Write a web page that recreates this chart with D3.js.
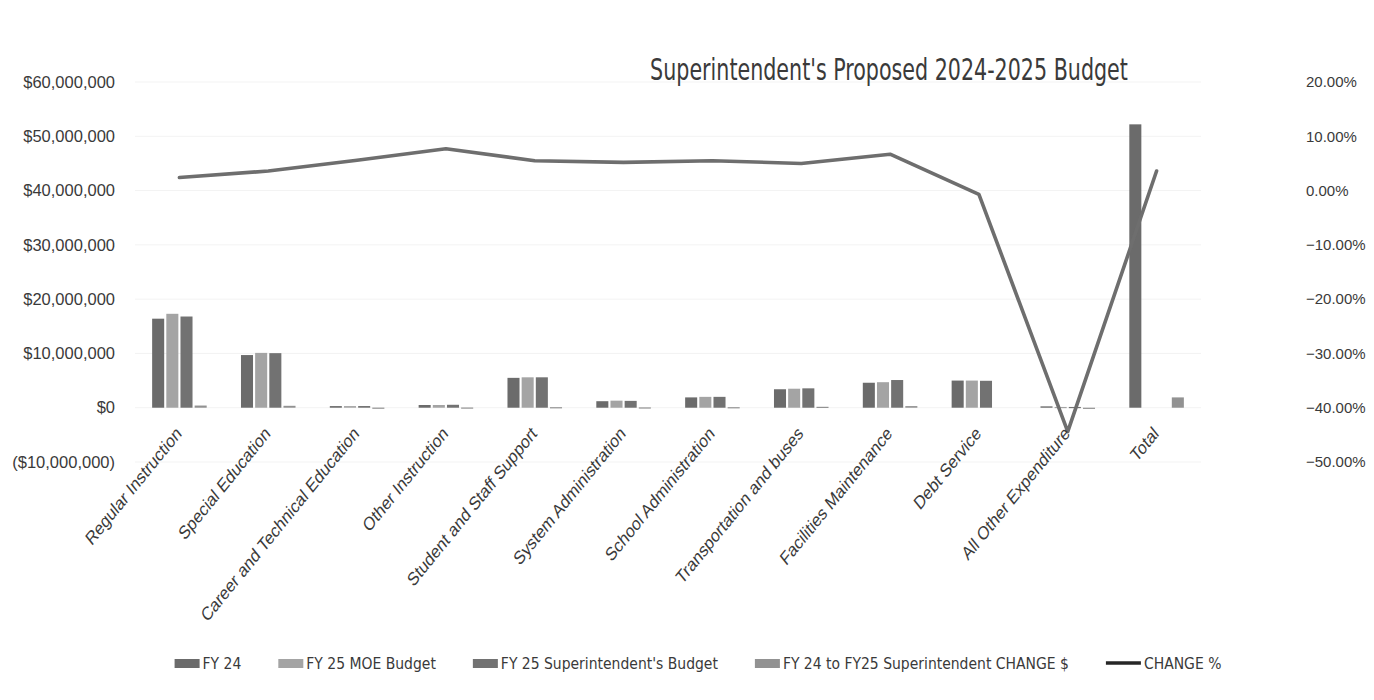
<!DOCTYPE html>
<html>
<head>
<meta charset="utf-8">
<script src="https://cdn.jsdelivr.net/npm/d3@7/dist/d3.min.js"></script>
<style>
  html, body { margin: 0; padding: 0; background: #fff; }
  svg { display: block; }
  .narrow { font-family: "Liberation Sans Narrow", "DejaVu Sans Condensed", "Roboto Condensed", sans-serif; font-stretch: condensed; }
  .tick-label { font-family: "Liberation Sans", Arial, sans-serif; }
</style>
</head>
<body>
<svg id="chart" width="1374" height="700"></svg>
<script>
// Budget categories and series (dollars; percentages as whole numbers)
const categories = [
  "Regular Instruction", "Special Education", "Career and Technical Education",
  "Other Instruction", "Student and Staff Support", "System Administration",
  "School Administration", "Transportation and buses", "Facilities Maintenance",
  "Debt Service", "All Other Expenditure", "Total"
];
const fy24        = [16400000, 9700000, 300000, 500000, 5500000, 1200000, 1900000, 3400000, 4600000, 5000000, 250000, 52200000];
const fy25Moe     = [17300000, 10100000, 300000, 500000, 5600000, 1300000, 2000000, 3500000, 4700000, 5000000, 140000, null];
const fy25Supt    = [16800000, 10050000, 310000, 540000, 5600000, 1260000, 2000000, 3570000, 5100000, 4960000, 140000, null];
const changeDollar = [400000, 350000, 20000, 40000, 100000, 60000, 100000, 170000, 300000, 0, -110000, 1900000];
const changePct   = [2.4, 3.6, 5.6, 7.7, 5.5, 5.2, 5.5, 5.0, 6.7, -0.7, -44.4, 3.6];

const leftTicks  = [-10000000, 0, 10000000, 20000000, 30000000, 40000000, 50000000, 60000000];
const rightTicks = [-50, -40, -30, -20, -10, 0, 10, 20];

const seriesNames = ["FY 24", "FY 25 MOE Budget", "FY 25 Superintendent's Budget", "FY 24 to FY25 Superintendent CHANGE $"];
const seriesValues = [fy24, fy25Moe, fy25Supt, changeDollar];
const seriesColors = ["#6b6b6b", "#a4a4a4", "#727272", "#929292"];
const lineName = "CHANGE %";
const lineColor = "#6e6e6e";
const lineLegendColor = "#262626";

const svg = d3.select("#chart");
const plot = { left: 135, right: 1201, top: 82, bottom: 462 };

const x0 = d3.scaleBand().domain(categories).range([plot.left, plot.right])
  .paddingInner(0.37).paddingOuter(0.185);
const x1 = d3.scaleBand().domain(d3.range(seriesNames.length)).range([0, x0.bandwidth()])
  .paddingInner(0.15).paddingOuter(0.05);
const yL = d3.scaleLinear().domain([-10000000, 60000000]).range([plot.bottom, plot.top]);
const yR = d3.scaleLinear().domain([-50, 20]).range([plot.bottom, plot.top]);

// faint horizontal gridlines
svg.append("g").selectAll("line").data(leftTicks).join("line")
  .attr("x1", plot.left).attr("x2", plot.right)
  .attr("y1", d => yL(d)).attr("y2", d => yL(d))
  .attr("stroke", "#f3f3f3").attr("stroke-width", 1);

// left axis ($)
const fmtDollar = v => v < 0 ? "($" + d3.format(",")(-v) + ")" : "$" + d3.format(",")(v);
const leftAxis = svg.append("g").attr("transform", `translate(${plot.left - 20},0)`)
  .call(d3.axisLeft(yL).tickValues(leftTicks).tickFormat(fmtDollar).tickSize(0).tickPadding(0));
leftAxis.select(".domain").remove();
leftAxis.selectAll("text").attr("class", "tick-label").attr("fill", "#3a3a3a")
  .style("font-size", "16.5px");

// right axis (%)
const rightAxis = svg.append("g").attr("transform", `translate(${plot.right + 105},0)`)
  .call(d3.axisRight(yR).tickValues(rightTicks).tickFormat(v => d3.format(".2f")(v) + "%").tickSize(0).tickPadding(0));
rightAxis.select(".domain").remove();
rightAxis.selectAll("text").attr("class", "tick-label").attr("fill", "#3a3a3a")
  .style("font-size", "15px").attr("text-anchor", "start");

// grouped bars
const groups = svg.append("g").selectAll("g").data(categories).join("g")
  .attr("transform", d => `translate(${x0(d)},0)`);
groups.selectAll("rect")
  .data((c, i) => seriesValues.map((vals, s) => ({ s, v: vals[i] })).filter(d => d.v !== null))
  .join("rect")
  .attr("x", d => x1(d.s))
  .attr("width", x1.bandwidth())
  .attr("y", d => yL(Math.max(0, d.v)))
  .attr("height", d => Math.max(Math.abs(yL(d.v) - yL(0)), d.v === 0 ? 0 : 1.2))
  .attr("fill", d => seriesColors[d.s]);

// change % line on the secondary axis
const line = d3.line()
  .x((d, i) => x0(categories[i]) + x0.bandwidth() / 2)
  .y(d => yR(d));
svg.append("path").datum(changePct)
  .attr("d", line)
  .attr("fill", "none")
  .attr("stroke", lineColor)
  .attr("stroke-width", 3.6)
  .attr("stroke-linejoin", "round")
  .attr("stroke-linecap", "round");

// category labels, rotated and stretched vertically like the rest of the sheet
svg.append("g").selectAll("text").data(categories).join("text")
  .attr("class", "tick-label")
  .attr("transform", d => `translate(${x0(d) + x0.bandwidth() / 2 + 3},${yL(0) + 27}) scale(1,1.23) rotate(-45)`)
  .attr("text-anchor", "end")
  .attr("fill", "#3a3a3a")
  .style("font-size", "15.3px")
  .text(d => d);

// title
svg.append("text").attr("class", "narrow")
  .attr("transform", "translate(889,80) scale(0.85,1.12)")
  .attr("text-anchor", "middle")
  .attr("fill", "#3a3a3a")
  .style("font-size", "27px")
  .text("Superintendent's Proposed 2024-2025 Budget");

// legend
const legendItems = seriesNames.map((n, i) => ({ name: n, color: seriesColors[i], type: "rect" }))
  .concat([{ name: lineName, color: lineLegendColor, type: "line" }]);
const legend = svg.append("g").attr("class", "narrow");
const swatchW = 25, swatchGap = 3, itemGap = 37, legendY = 663;
const items = legend.selectAll("g").data(legendItems).join("g");
items.append("text")
  .attr("x", swatchW + swatchGap).attr("y", legendY + 5.5)
  .attr("fill", "#3a3a3a")
  .style("font-size", "15.5px")
  .text(d => d.name);
const widths = [];
items.each(function () { widths.push(d3.select(this).select("text").node().getComputedTextLength()); });
const totalW = d3.sum(widths, w => w + swatchW + swatchGap) + itemGap * (widths.length - 1);
let cursor = 693 - totalW / 2;
items.attr("transform", (d, i) => { const t = `translate(${cursor},0)`; cursor += widths[i] + swatchW + swatchGap + itemGap; return t; });
items.filter(d => d.type === "rect").append("rect")
  .attr("x", 0).attr("y", legendY - 4).attr("width", swatchW).attr("height", 9)
  .attr("fill", d => d.color);
items.filter(d => d.type === "line").append("line")
  .attr("x1", 0).attr("x2", swatchW + 10).attr("y1", legendY).attr("y2", legendY)
  .attr("stroke", d => d.color).attr("stroke-width", 3.5);
items.filter(d => d.type === "line").select("text").attr("x", swatchW + 10 + swatchGap);
</script>
</body>
</html>
